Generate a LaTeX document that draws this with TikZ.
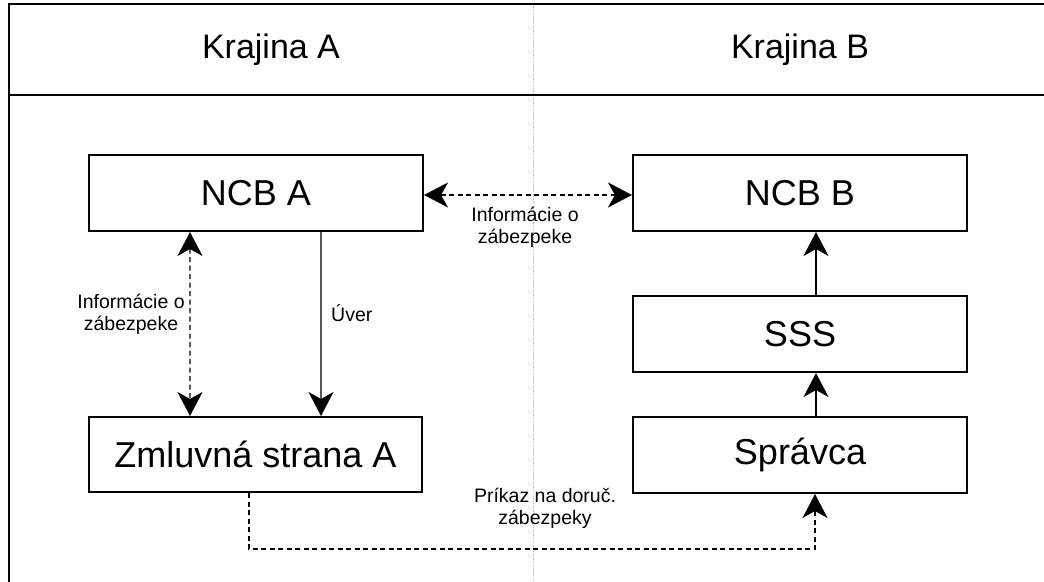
\documentclass[tikz,border=0pt]{standalone}
\usepackage{fontspec}
\setmainfont{Liberation Sans}
\usetikzlibrary{arrows.meta}
\begin{document}
\begin{tikzpicture}[x=1bp,y=-1bp,
 box/.style={draw, line width=2bp, minimum width=334bp, minimum height=76bp, inner sep=0, font=\fontsize{36bp}{42bp}\selectfont},
 hdr/.style={inner sep=0, font=\fontsize{34bp}{40bp}\selectfont},
 lbl/.style={font=\fontsize{19.5bp}{22bp}\selectfont, align=center, inner sep=0},
 tip/.style={-{Stealth[length=24bp,width=25bp,inset=7bp]}},
 tips/.style={{Stealth[length=24bp,width=25bp,inset=7bp]}-{Stealth[length=24bp,width=25bp,inset=7bp]}},
 conn/.style={line width=1.3bp},
 dsh/.style={dash pattern=on 5bp off 3.5bp},
 frame/.style={line width=2bp}]
\useasboundingbox (0,0) rectangle (1044,582);
\draw[gray!55, line width=0.8bp, dash pattern=on 1.2bp off 1.2bp] (533,4) -- (533,590);
\draw[frame] (9,600) -- (9,4) -- (1070,4);
\draw[frame] (9,95) -- (1070,95);
\node[hdr] (ka) at (271,50) {Krajina A};
\node[hdr] (kb) at (800,50) {Krajina B};
\node[box] (ncba) at (256,193) {NCB A};
\node[box] (ncbb) at (800,193) {NCB B};
\node[box] (sss) at (800,334) {SSS};
\node[box] (spr) at (800,455) {Správca};
\node[box, minimum width=333bp, minimum height=75bp] (zml) at (255.5,454.5) {Zmluvná strana A};
% connectors
\draw[conn,dsh,tips] ([yshift=-2bp]ncba.east) -- ([yshift=-2bp]ncbb.west);
\draw[conn,dsh,tips] ([xshift=102bp]ncba.south west) -- ([xshift=102bp]zml.north west);
\draw[conn,tip] ([xshift=233bp]ncba.south west) -- ([xshift=233bp]zml.north west);
\draw[conn,tip] ([xshift=16bp]sss.north) -- ([xshift=16bp]ncbb.south);
\draw[conn,tip] ([xshift=16bp]spr.north) -- ([xshift=16bp]sss.south);
\draw[conn,dsh,tip] ([xshift=161bp]zml.south west) -- ++(0,56) -| ([xshift=183bp]spr.south west);
% labels
\node[lbl] (l1) at (525,227) {Informácie o\\zábezpeke};
\node[lbl] (l2) at (131,314) {Informácie o\\zábezpeke};
\node[lbl, anchor=west] (l3) at (331,313) {Úver};
\node[lbl] (l4) at (545,508) {Príkaz na doruč.\\zábezpeky};
\end{tikzpicture}
\end{document}
